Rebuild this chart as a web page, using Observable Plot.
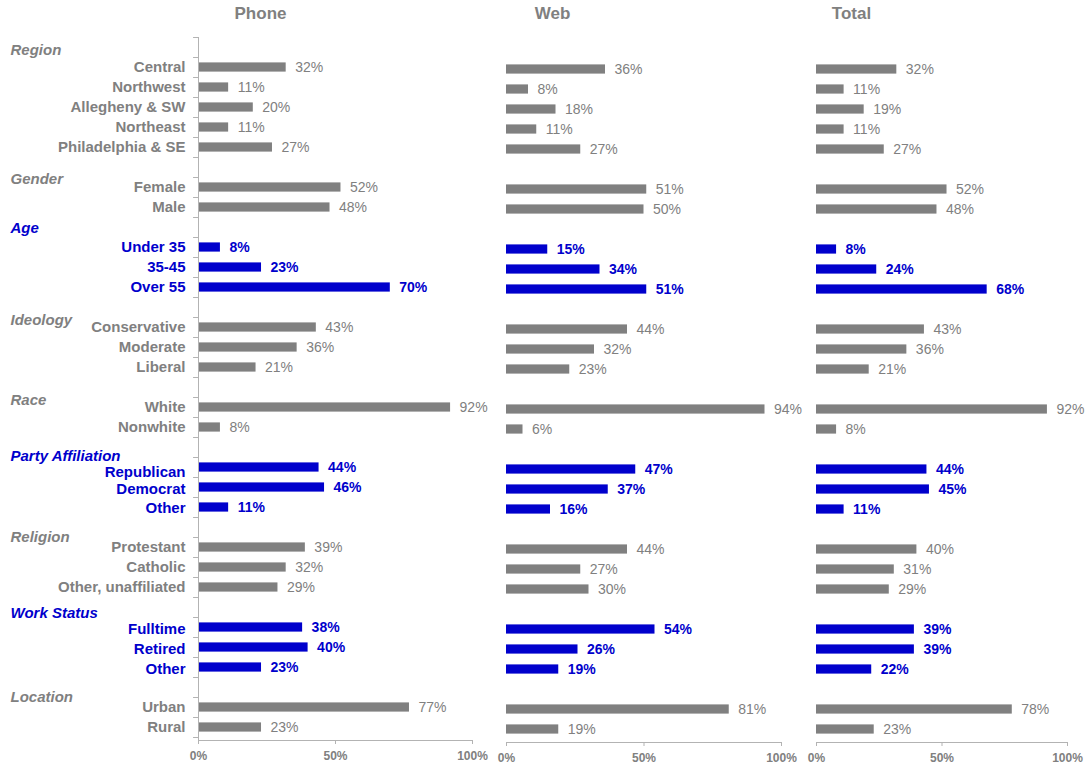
<!DOCTYPE html>
<html><head><meta charset="utf-8">
<script src="https://cdn.jsdelivr.net/npm/d3@7"></script>
<script src="https://cdn.jsdelivr.net/npm/@observablehq/plot@0.6"></script>
<style>
body{margin:0;background:#fff;}
#chart{position:relative;width:1089px;height:765px;overflow:hidden;font-family:"Liberation Sans",Arial,sans-serif;}
#chart svg{position:absolute;top:0;overflow:visible;}
</style></head><body><div id="chart"></div>
<script>
// ---------- DATA ----------
const groups = ["Region","Gender","Age","Ideology","Race","Party Affiliation","Religion","Work Status","Location"];
const highlightedGroups = ["Age","Party Affiliation","Work Status"];
const categories = [
  ["Central","Northwest","Allegheny & SW","Northeast","Philadelphia & SE"],
  ["Female","Male"],
  ["Under 35","35-45","Over 55"],
  ["Conservative","Moderate","Liberal"],
  ["White","Nonwhite"],
  ["Republican","Democrat","Other"],
  ["Protestant","Catholic","Other, unaffiliated"],
  ["Fulltime","Retired","Other"],
  ["Urban","Rural"]
];
const phoneValues = [[32,11,20,11,27],[52,48],[8,23,70],[43,36,21],[92,8],[44,46,11],[39,32,29],[38,40,23],[77,23]];
const webValues   = [[36,8,18,11,27],[51,50],[15,34,51],[44,32,23],[94,6],[47,37,16],[44,27,30],[54,26,19],[81,19]];
const totalValues = [[32,11,19,11,27],[52,48],[8,24,68],[43,36,21],[92,8],[44,45,11],[40,31,29],[39,39,22],[78,23]];
const panelTitles = ["Phone","Web","Total"];
const xTicks = [0, 0.5, 1];

// ---------- BUILD TABLE ----------
const seriesValues = [phoneValues, webValues, totalValues];
const rows = [], headers = [];
let slot = 0;
groups.forEach((g, gi) => {
  const hl = highlightedGroups.includes(g);
  headers.push({group: g, gi, slot, hl});
  slot++;
  categories[gi].forEach((c, ci) => {
    rows.push({group: g, gi, ci, label: c, slot, hl, v: seriesValues.map(s => s[gi][ci])});
    slot++;
  });
});
const nSlots = slot;

// ---------- STYLE / LAYOUT ----------
const GRAY = "#808080", BLUE = "#0000CC", AXIS = "#b3b3b3";
const headerShift = [0.15, 0.6, 0.05, 0.65, 0.65, 0.45, 0.5, 0.3, 0.5];
// small vertical nudges of category labels (in slot units), as in the original
const labelShift = d => d.group === "Party Affiliation" ? [0.25, 0.1, 0.05][d.ci]
  : (d.group === "Work Status" ? 0.08 : 0);
const panels = [
  {left: 0,   width: 490, ml: 198, mr: 18, mt: 37, mb: 25, titleX: 260, yAxis: true},
  {left: 490, width: 300, ml: 16,  mr: 9,  mt: 39, mb: 23, titleX: 552, yAxis: false},
  {left: 790, width: 299, ml: 26,  mr: 22, mt: 39, mb: 23, titleX: 851, yAxis: false}
];
const font = "'Liberation Sans', Arial, sans-serif";
const root = document.getElementById("chart");

panels.forEach((p, pi) => {
  const marks = [
    Plot.frame({anchor: "bottom", stroke: AXIS}),
    Plot.axisX({ticks: xTicks, tickFormat: d3.format(".0%"), tickSize: 4, tickPadding: 7,
      fontSize: 12, fontWeight: "bold", fill: GRAY, stroke: AXIS, label: null}),
    Plot.rectX(rows, {x1: 0, x2: d => d.v[pi] / 100,
      y1: d => d.slot - 0.23, y2: d => d.slot + 0.23,
      fill: d => d.hl ? BLUE : GRAY}),
    // gray value labels (regular weight)
    Plot.text(rows.filter(d => !d.hl), {x: d => d.v[pi] / 100, y: "slot", text: d => d.v[pi] + "%",
      dx: 9, textAnchor: "start", fontSize: 14, fill: GRAY}),
    // highlighted value labels (bold blue)
    Plot.text(rows.filter(d => d.hl), {x: d => d.v[pi] / 100, y: "slot", text: d => d.v[pi] + "%",
      dx: 9, textAnchor: "start", fontSize: 14, fontWeight: "bold", fill: BLUE}),
    Plot.text([panelTitles[pi]], {text: d => d, frameAnchor: "top-left",
      dx: p.titleX - p.left - p.ml, dy: 13 - p.mt, textAnchor: "middle", lineAnchor: "middle",
      fontSize: 17, fontWeight: "bold", fill: GRAY})
  ];
  if (p.yAxis) {
    marks.push(
      Plot.ruleX([0], {stroke: AXIS}),
      Plot.ruleY(d3.range(nSlots + 1).map(i => i - 0.5), {x1: -0.018, x2: 0, stroke: AXIS}),
      Plot.text(rows, {x: 0, y: d => d.slot + labelShift(d), text: "label", dx: -13, textAnchor: "end",
        fontSize: 15, fontWeight: "bold", fill: d => d.hl ? BLUE : GRAY}),
      Plot.text(headers, {y: d => d.slot + headerShift[d.gi], text: "group",
        frameAnchor: "left", dx: 10 - p.ml, textAnchor: "start",
        fontSize: 15, fontWeight: "bold", fontStyle: "italic", fill: d => d.hl ? BLUE : GRAY})
    );
  }
  const svg = Plot.plot({
    width: p.width, height: 765,
    marginLeft: p.ml, marginRight: p.mr, marginTop: p.mt, marginBottom: p.mb,
    x: {domain: [0, 1], axis: null},
    y: {domain: [-0.5, nSlots - 0.5 + 0.15], reverse: true, axis: null},
    color: {type: "identity"},
    style: {background: "transparent", overflow: "visible", fontFamily: font},
    marks
  });
  svg.style.left = p.left + "px";
  root.appendChild(svg);
});
</script></body></html>
